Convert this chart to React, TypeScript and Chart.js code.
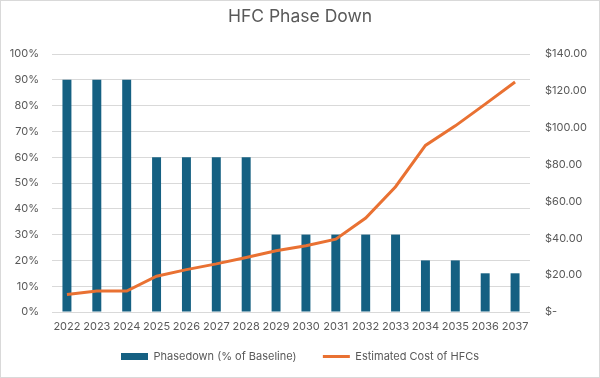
import React, { useEffect, useRef } from "react";
import { Chart, registerables } from "chart.js";

Chart.register(...registerables);

const years = ["2022","2023","2024","2025","2026","2027","2028","2029","2030","2031","2032","2033","2034","2035","2036","2037"];
const phasedown = [0.9,0.9,0.9,0.6,0.6,0.6,0.6,0.3,0.3,0.3,0.3,0.3,0.2,0.2,0.15,0.15];
const estCost = [9.5,11.4,11.4,19.4,23,26.1,29.6,33.2,36,39.5,51,68,90.4,101,112.8,124.8];

const FONT = "Inter, 'Noto Sans', sans-serif";
const GRAY = "#595959";

export default function App() {
  const ref = useRef<HTMLCanvasElement | null>(null);
  useEffect(() => {
    document.body.style.margin = "0";
    const chart = new Chart(ref.current!, {
      type: "bar",
      data: {
        labels: years,
        datasets: [
          {
            type: "line",
            label: "Estimated Cost of HFCs",
            data: estCost,
            borderColor: "#E97132",
            backgroundColor: "#E97132",
            borderWidth: 3,
            pointRadius: 0,
            pointStyle: "line",
            yAxisID: "y1",
            order: 0,
          } as any,
          {
            type: "bar",
            label: "Phasedown (% of Baseline)",
            data: phasedown,
            backgroundColor: "#156082",
            barPercentage: 0.3,
            categoryPercentage: 1,
            pointStyle: "rect",
            yAxisID: "y",
            order: 1,
          } as any,
        ],
      },
      options: {
        animation: false,
        responsive: false,
        layout: { padding: { left: 0, right: 0, top: 0, bottom: 6 } },
        plugins: {
          title: {
            display: true,
            text: "HFC Phase Down",
            color: GRAY,
            font: { family: FONT, size: 17.5, weight: "normal" },
            padding: { top: 6.5, bottom: 26.5 },
          },
          legend: {
            position: "bottom",
            reverse: true,
            labels: {
              usePointStyle: true,
              pointStyleWidth: 27,
              boxHeight: 7,
              color: GRAY,
              padding: 17,
              font: { family: FONT, size: 11 },
              generateLabels: (c: any) => {
                const items = Chart.defaults.plugins.legend.labels.generateLabels(c);
                return items.map((it: any) =>
                  it.datasetIndex === 1 ? { ...it, text: it.text + "   " } : it
                );
              },
            },
          },
          tooltip: { enabled: false },
        },
        scales: {
          x: {
            grid: { display: false, drawTicks: false },
            border: { display: false },
            ticks: { color: GRAY, font: { family: FONT, size: 11 }, maxRotation: 0, autoSkip: false, padding: 8 },
            afterFit: (s: any) => { s.height = 22; },
          },
          y: {
            position: "left",
            min: 0,
            max: 1,
            grid: { color: "#d9d9d9", lineWidth: 1, drawTicks: false },
            border: { display: false },
            ticks: {
              stepSize: 0.1,
              color: GRAY,
              padding: 13,
              font: { family: FONT, size: 11 },
              callback: (v: any) => Math.round(Number(v) * 100) + "%",
            },
            afterFit: (s: any) => { s.width = 52; },
          },
          y1: {
            position: "right",
            min: 0,
            max: 140,
            grid: { display: false, drawTicks: false },
            border: { display: false },
            ticks: {
              stepSize: 20,
              color: GRAY,
              padding: 15,
              font: { family: FONT, size: 11 },
              callback: (v: any) => (Number(v) === 0 ? "$-" : "$" + Number(v).toFixed(2)),
            },
            afterFit: (s: any) => { s.width = 70; },
          },
        },
      },
    });
    return () => chart.destroy();
  }, []);
  return (
    <div style={{ position: "relative", width: 600, height: 378, background: "#fff" }}>
      <canvas ref={ref} width={600} height={378} style={{ display: "block" }} />
      <div style={{ position: "absolute", inset: 0, border: "1px solid #d9d9d9", pointerEvents: "none" }} />
    </div>
  );
}
